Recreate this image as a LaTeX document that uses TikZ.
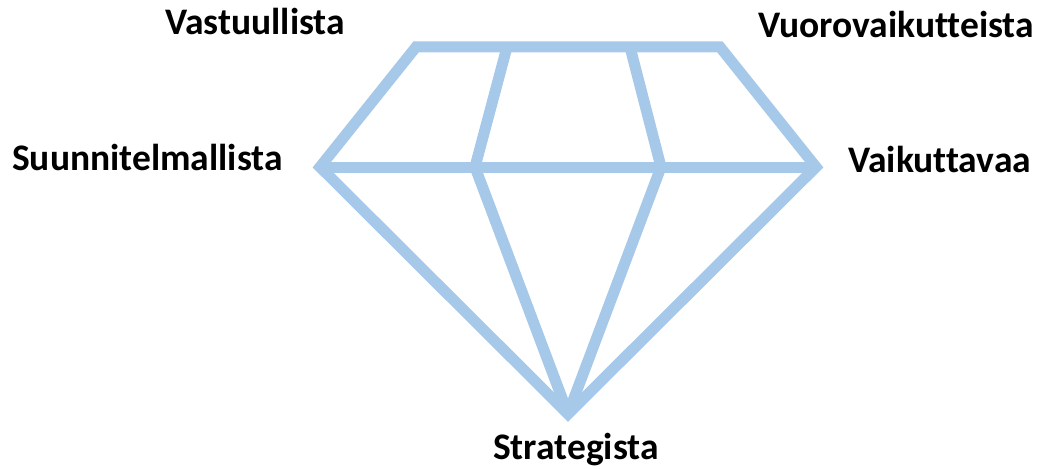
\documentclass[tikz,border=0pt]{standalone}
\usepackage{fontspec}
\setmainfont[Ligatures=NoCommon]{Carlito}
\usepackage{tikz}
\usetikzlibrary{positioning}
\definecolor{gemblue}{RGB}{166,200,233}

\begin{document}
\begin{tikzpicture}[
  x=1pt, y=-1pt,
  edge/.style={draw=gemblue, line width=11pt, line join=miter, miter limit=10},
  lbl/.style={inner sep=0pt, anchor=base west, font=\fontsize{37.5}{42}\selectfont\bfseries}
]
\useasboundingbox (0,0) rectangle (1040,468);
% corners of the gem
\coordinate (tl) at (416,47);
\coordinate (tr) at (720,47);
\coordinate (ml) at (320,167);
\coordinate (mr) at (816,167);
\coordinate (tip) at (568,414);
\coordinate (ta) at (507,47);
\coordinate (tb) at (630,47);
\coordinate (ma) at (475,167);
\coordinate (mb) at (661,167);
\draw[edge] (ml) -- (mr);
\draw[edge] (ta) -- (ma) -- (tip);
\draw[edge] (tb) -- (mb) -- (tip);
\draw[edge] (tl) -- (tr) -- (mr) -- (tip) -- (ml) -- cycle;
% labels
\node[lbl] (vastuu) at (165,35) {Vastuullista};
\node[lbl] (vuoro) at (758,38) {Vuorovaikutteista};
\node[lbl] (suunn) at (12,170) {Suunnitelmallista};
\node[lbl] (vaik) at (848,172) {Vaikuttavaa};
\node[lbl] (strat) at (493,459) {Strategista};
\end{tikzpicture}
\end{document}
